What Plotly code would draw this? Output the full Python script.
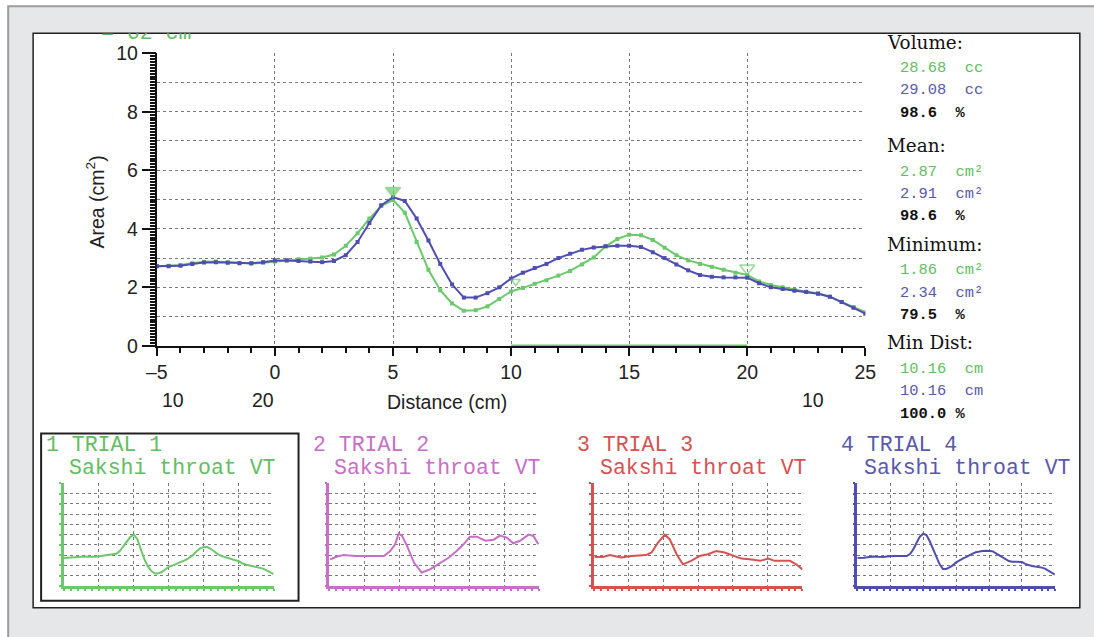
import plotly.graph_objects as go

# ---------------- data ----------------
distance = [-5.0, -4.5, -4.0, -3.5, -3.0, -2.5, -2.0, -1.5, -1.0, -0.5,
            0.0, 0.5, 1.0, 1.5, 2.0, 2.5, 3.0, 3.5, 4.0, 4.5,
            5.0, 5.5, 6.0, 6.5, 7.0, 7.5, 8.0, 8.5, 9.0, 9.5,
            10.0, 10.5, 11.0, 11.5, 12.0, 12.5, 13.0, 13.5, 14.0, 14.5,
            15.0, 15.5, 16.0, 16.5, 17.0, 17.5, 18.0, 18.5, 19.0, 19.5,
            20.0, 20.5, 21.0, 21.5, 22.0, 22.5, 23.0, 23.5, 24.0, 24.5, 25.0]

area_trial1 = [2.72, 2.74, 2.76, 2.82, 2.87, 2.88, 2.86, 2.83, 2.81, 2.84,
               2.88, 2.92, 2.96, 2.98, 3.02, 3.12, 3.42, 3.85, 4.35, 4.78,
               4.98, 4.55, 3.55, 2.60, 1.90, 1.45, 1.20, 1.22, 1.35, 1.60,
               1.86, 1.98, 2.12, 2.24, 2.40, 2.56, 2.78, 3.02, 3.40, 3.65,
               3.80, 3.78, 3.62, 3.35, 3.10, 2.92, 2.80, 2.70, 2.60, 2.50,
               2.42, 2.20, 2.08, 2.00, 1.92, 1.85, 1.80, 1.68, 1.50, 1.32, 1.15]

area_trial4 = [2.72, 2.72, 2.74, 2.80, 2.85, 2.86, 2.84, 2.82, 2.82, 2.86,
               2.92, 2.92, 2.90, 2.88, 2.86, 2.90, 3.10, 3.55, 4.20, 4.80,
               5.08, 4.95, 4.35, 3.60, 2.80, 2.10, 1.65, 1.65, 1.80, 2.00,
               2.30, 2.50, 2.66, 2.80, 3.00, 3.15, 3.28, 3.36, 3.40, 3.42,
               3.42, 3.38, 3.20, 3.00, 2.78, 2.58, 2.42, 2.36, 2.34, 2.34,
               2.33, 2.14, 2.00, 1.94, 1.88, 1.84, 1.78, 1.68, 1.50, 1.30, 1.10]

dist_trial2 = [-4.9, -3.9, -3.0, -1.3, 2.8, 3.7, 4.4, 4.9, 5.4, 6.1, 7.1, 8.2,
               9.4, 10.9, 12.1, 13.2, 14.2, 15.1, 16.1, 17.3, 18.5, 19.4, 20.4,
               21.3, 22.3, 23.5, 24.2, 24.9]
area_trial2 = [2.60, 2.86, 3.00, 2.92, 2.92, 3.40, 4.05, 5.10, 4.87, 3.90, 2.27, 1.30,
               1.60, 2.27, 2.76, 3.40, 4.05, 4.80, 4.80, 4.40, 4.50, 4.90, 4.70,
               4.15, 4.40, 5.00, 4.87, 4.05]

dist_trial3 = [-4.9, -3.7, -2.7, -1.1, 0.4, 2.5, 3.3, 4.2, 5.2, 5.9, 6.9, 7.8,
               9.0, 10.2, 11.4, 12.6, 13.8, 15.0, 16.2, 17.4, 18.9, 20.1, 21.0,
               23.2, 24.1, 25.0]
area_trial3 = [2.82, 2.82, 3.00, 2.76, 2.92, 3.00, 3.25, 4.20, 5.00, 4.55, 3.08, 2.10,
               2.44, 2.92, 3.08, 3.40, 3.25, 2.92, 2.66, 2.60, 2.44, 2.66, 2.44,
               2.44, 2.10, 1.60]

marker_x = [5.0, 20.0, 10.2]
marker_y = [5.3, 2.65, 2.2]
marker_symbols = ["triangle-down", "triangle-down-open", "triangle-down-open"]
marker_sizes = [13, 13, 8]
analysis_range = [10, 20]

x_ticks = [-5, 0, 5, 10, 15, 20, 25]
y_ticks = [0, 2, 4, 6, 8, 10]

stats = [
    ("Volume:", [("28.68  cc", "g"), ("29.08  cc", "b"), ("98.6  %", "k")]),
    ("Mean:", [("2.87  cm²", "g"), ("2.91  cm²", "b"), ("98.6  %", "k")]),
    ("Minimum:", [("1.86  cm²", "g"), ("2.34  cm²", "b"), ("79.5  %", "k")]),
    ("Min Dist:", [("10.16  cm", "g"), ("10.16  cm", "b"), ("100.0 %", "k")]),
]

trial_titles = ["1 TRIAL 1", "2 TRIAL 2", "3 TRIAL 3", "4 TRIAL 4"]
trial_subtitle = "Sakshi throat VT"

# ---------------- styling ----------------
W, H = 1094, 637
# the photographed page shows a 10 px frame around the page, scaled to fit
SX = 1094 / 1114
SY = 637 / 657
FS = 1.025
GREEN = "rgb(108,200,108)"
BLUE = "rgb(78,78,178)"
MAGENTA = "rgb(200,110,200)"
RED = "rgb(212,82,82)"
GREEN_T = "rgb(98,190,98)"
BLUE_T = "rgb(88,88,172)"
GRID = "#7a7a7a"


def px(x):
    return (x / SX - 10) / W


def py(y):
    return 1 - (y / SY - 10) / H


def fs(s):
    return round(s * FS, 1)


fig = go.Figure()

# main curves
fig.add_trace(go.Scatter(x=distance, y=area_trial1, mode="lines+markers",
                         line=dict(color=GREEN, width=2),
                         marker=dict(symbol="square", size=4, color=GREEN),
                         xaxis="x", yaxis="y", showlegend=False))
fig.add_trace(go.Scatter(x=distance, y=area_trial4, mode="lines+markers",
                         line=dict(color=BLUE, width=2),
                         marker=dict(symbol="square", size=4, color=BLUE),
                         xaxis="x", yaxis="y", showlegend=False))
fig.add_trace(go.Scatter(x=marker_x, y=marker_y, mode="markers",
                         marker=dict(symbol=marker_symbols, size=marker_sizes,
                                     color=GREEN, line=dict(color=GREEN, width=1.5)),
                         xaxis="x", yaxis="y7", showlegend=False, cliponaxis=False))

# thumbnails
thumbs = [
    (distance, area_trial1, GREEN, 63, 273),
    (dist_trial2, area_trial2, MAGENTA, 329, 539),
    (dist_trial3, area_trial3, RED, 594, 803),
    (distance, area_trial4, BLUE, 858, 1056),
]
thumb_title_x = [(43, 66), (310, 332), (575, 598), (840, 863)]

for i, (tx, ty, col, x0, x1) in enumerate(thumbs):
    n = i + 2
    fig.add_trace(go.Scatter(x=tx, y=ty, mode="lines",
                             line=dict(color=col, width=2),
                             xaxis=f"x{n}", yaxis=f"y{n}", showlegend=False))
    fig.layout[f"xaxis{n}"] = dict(
        domain=[px(x0), px(x1)], range=[-5, 25], anchor=f"y{n}",
        tickmode="linear", tick0=-5, dtick=5, showticklabels=False,
        showgrid=True, gridcolor=GRID, griddash="dot", gridwidth=1,
        showline=True, linecolor=col, linewidth=2.5,
        ticks="outside", ticklen=2, tickcolor=col, tickwidth=2,
        minor=dict(dtick=1, ticks="outside", ticklen=2, tickcolor=col, tickwidth=2),
        zeroline=False, fixedrange=True)
    fig.layout[f"yaxis{n}"] = dict(
        domain=[py(587), py(484)], range=[0, 10], anchor=f"x{n}",
        tickmode="linear", tick0=0, dtick=1, showticklabels=False,
        showgrid=True, gridcolor=GRID, griddash="dot", gridwidth=1,
        showline=True, linecolor=col, linewidth=2.5,
        ticks="outside", ticklen=2, tickcolor=col, tickwidth=2,
        zeroline=False, fixedrange=True)

# clipped green text at top of panel
fig.add_trace(go.Scatter(x=[0], y=[1.0], mode="text", text=["= 62 cm"],
                         textposition="middle right",
                         textfont=dict(family="Liberation Mono", size=fs(21), color=GREEN_T),
                         xaxis="x6", yaxis="y6", showlegend=False, cliponaxis=True))

fig.update_layout(
    width=W, height=H, autosize=False,
    margin=dict(l=0, r=0, t=0, b=0),
    paper_bgcolor="white", plot_bgcolor="rgba(0,0,0,0)",
    font=dict(family="Liberation Sans", color="#222"),
    xaxis=dict(domain=[px(156), px(866)], range=[-5, 25], anchor="y",
               tickmode="array", tickvals=x_ticks,
               ticktext=["–5"] + [str(v) for v in x_ticks[1:]],
               ticks="outside", ticklen=8, tickwidth=2, tickcolor="#111",
               showline=True, linecolor="#111", linewidth=2,
               showgrid=True, gridcolor=GRID, griddash="dot", gridwidth=1,
               minor=dict(tickmode="linear", tick0=-5, dtick=1, ticks="outside",
                          ticklen=5, tickwidth=2, tickcolor="#111", showgrid=False),
               tickfont=dict(family="Liberation Sans", size=fs(19), color="#222"),
               zeroline=False, layer="below traces", fixedrange=True),
    yaxis=dict(domain=[py(346), py(52)], range=[0, 10], anchor="x",
               tickmode="array", tickvals=y_ticks,
               ticks="outside", ticklen=13, tickwidth=2, tickcolor="#111",
               showline=True, linecolor="#111", linewidth=2,
               showgrid=True, gridcolor=GRID, griddash="dot", gridwidth=1,
               minor=dict(tickmode="linear", tick0=0, dtick=1, ticks="",
                          showgrid=True, gridcolor=GRID, griddash="dot", gridwidth=1),
               tickfont=dict(family="Liberation Sans", size=fs(19), color="#222"),
               zeroline=False, layer="below traces", fixedrange=True),
    yaxis7=dict(overlaying="y", range=[0, 10], anchor="x", side="left",
                tickmode="linear", tick0=0, dtick=0.1, ticks="outside", ticklen=6,
                tickwidth=1.5, tickcolor="#111", showticklabels=False,
                showgrid=False, showline=False, zeroline=False, fixedrange=True),
    xaxis6=dict(domain=[px(100), px(260)], range=[0, 1], anchor="y6",
                visible=False, fixedrange=True),
    yaxis6=dict(domain=[py(50), py(32)], range=[0, 1], anchor="x6",
                visible=False, fixedrange=True),
)

# background panels
shapes = [
    dict(type="rect", xref="paper", yref="paper", x0=px(7), y0=py(5), x1=px(1110), y1=py(650),
         fillcolor="#e6e7e8", line=dict(color="#9c9c9c", width=2), layer="below"),
    dict(type="rect", xref="paper", yref="paper", x0=px(32), y0=py(32), x1=px(1081), y1=py(609),
         fillcolor="white", line=dict(color="#222", width=1.5), layer="below"),
    dict(type="rect", xref="paper", yref="paper", x0=px(40), y0=py(434), x1=px(298), y1=py(602),
         fillcolor="rgba(0,0,0,0)", line=dict(color="#222", width=2), layer="below"),
    dict(type="line", xref="x", yref="y", x0=analysis_range[0], y0=0,
         x1=analysis_range[1], y1=0, line=dict(color=GREEN, width=3), layer="above"),
]
fig.update_layout(shapes=shapes)

ann = []


def add_text(x, y, text, size, color="#222", family="Liberation Sans", xanchor="left", **kw):
    ann.append(dict(x=px(x), y=py(y), xref="paper", yref="paper", text=text,
                    showarrow=False, xanchor=xanchor, yanchor="middle",
                    font=dict(family=family, size=fs(size), color=color), **kw))


# axis titles and extra labels
add_text(447, 402, "Distance (cm)", 19, xanchor="center")
add_text(95, 201, "Area (cm<sup>2</sup>)", 19, xanchor="center", textangle=-90)
add_text(172, 400, "10", 19, xanchor="center")
add_text(262, 400, "20", 19, xanchor="center")
add_text(814, 400, "10", 19, xanchor="center")

# right stats panel
color_map = {"g": GREEN_T, "b": BLUE_T, "k": "#111"}
header_y = [41, 145, 244, 343]
for (header, rows), hy in zip(stats, header_y):
    add_text(886, hy, header, 18, family="DejaVu Serif", color="#111")
    for j, (txt, c) in enumerate(rows):
        yy = hy + 26 + j * 22.5
        if c == "k":
            add_text(899, yy, f"<b>{txt}</b>", 15, family="Liberation Mono", color="#111")
        else:
            add_text(899, yy, txt, 15, family="Liberation Mono", color=color_map[c])

# thumbnail titles
thumb_colors = [GREEN_T, MAGENTA, RED, BLUE_T]
for (tx1, tx2), title, col in zip(thumb_title_x, trial_titles, thumb_colors):
    add_text(tx1, 446, title, 21, family="Liberation Mono", color=col)
    add_text(tx2, 469, trial_subtitle, 21, family="Liberation Mono", color=col)

fig.update_layout(annotations=ann)

fig.write_html("out.html", config={"displayModeBar": False})
with open("out.html", "r", encoding="utf-8") as f:
    html = f.read()
html = html.replace("<head>", "<head><style>html,body{margin:0;padding:0;}</style>", 1)
with open("out.html", "w", encoding="utf-8") as f:
    f.write(html)
